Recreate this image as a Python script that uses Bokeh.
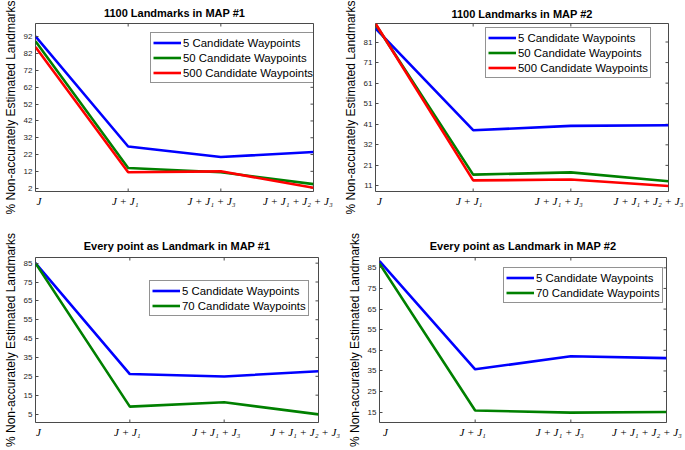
import math
from bokeh.plotting import figure
from bokeh.models import LinearAxis, FixedTicker, Legend, LegendItem, Range1d
from bokeh.layouts import column, row
from bokeh.embed import file_html
from bokeh.resources import INLINE

# ---------------- data ----------------
stages = [1, 2, 3, 4]
stage_labels = ["J", "J + J₁", "J + J₁ + J₃", "J + J₁ + J₂ + J₃"]

title_1 = "1100 Landmarks in MAP #1"
title_2 = "1100 Landmarks in MAP #2"
title_3 = "Every point as Landmark in MAP #1"
title_4 = "Every point as Landmark in MAP #2"

y_label = "% Non-accurately Estimated Landmarks"

series_names_a = ["5 Candidate Waypoints", "50 Candidate Waypoints", "500 Candidate Waypoints"]
series_names_b = ["5 Candidate Waypoints", "70 Candidate Waypoints"]

map1_1100_w5 = [92.4, 26.8, 20.5, 23.5]
map1_1100_w50 = [89.4, 14.0, 11.5, 4.4]
map1_1100_w500 = [86.0, 11.5, 12.0, 2.2]

map2_1100_w5 = [87.6, 38.1, 40.2, 40.5]
map2_1100_w50 = [89.6, 16.5, 17.6, 13.3]
map2_1100_w500 = [90.0, 13.7, 14.1, 11.0]

map1_all_w5 = [85.0, 26.2, 24.9, 27.7]
map1_all_w70 = [85.0, 8.9, 11.2, 4.8]

map2_all_w5 = [88.3, 35.8, 42.1, 41.2]
map2_all_w70 = [87.0, 15.8, 14.8, 15.1]

ticks_1 = [2, 12, 22, 32, 42, 52, 62, 72, 82, 92]
tick_labels_1 = ["2", "12", "22", "32", "42", "52", "62", "72", "82", "92"]
ticks_2 = [11, 21, 31, 41, 51, 61, 71, 81]
tick_labels_2 = ["11", "21", "32", "41", "51", "61", "71", "81"]
ticks_3 = [5, 15, 25, 35, 45, 55, 65, 75, 85]
tick_labels_3 = ["5", "15", "25", "35", "45", "55", "65", "75", "85"]
ticks_4 = [15, 25, 35, 45, 55, 65, 75, 85]
tick_labels_4 = ["15", "25", "35", "45", "55", "65", "75", "85"]

y_lims_1 = (0, 100)
y_lims_2 = (8.3, 90)
y_lims_3 = (0.5, 88)
y_lims_4 = (10, 90)

# ---------------- styling ----------------
COLORS = ["#0000ff", "#008000", "#ff0000"]
SANS = "Liberation Sans"
SERIF = "Liberation Serif"
EDGE = "#4a4a4a"


def make_panel(title, series, names, ticks, tick_labels, ylims, geom, title_gap,
               legend_pos, label_shift):
    w, h, bl, br, bt, bb = geom
    p = figure(width=w, height=h, output_backend="svg", toolbar_location=None,
               x_range=Range1d(1, 4), y_range=Range1d(*ylims),
               min_border_left=bl, min_border_right=br,
               min_border_top=bt, min_border_bottom=bb,
               x_axis_location=None, y_axis_location=None)
    p.grid.visible = False
    p.outline_line_color = EDGE
    p.outline_line_width = 1
    p.background_fill_color = "white"
    p.border_fill_color = "white"

    p.title.text = title
    p.title.align = "center"
    p.title.text_font = SANS
    p.title.text_font_size = "11px"
    p.title.text_font_style = "bold"
    p.title.text_color = "#000000"
    p.title.standoff = title_gap

    overrides = {t: l for t, l in zip(ticks, tick_labels)}

    yl = LinearAxis(ticker=FixedTicker(ticks=ticks), major_label_overrides=overrides,
                    axis_label=y_label)
    yl.axis_line_color = None
    yl.major_tick_in = 3
    yl.major_tick_out = 0
    yl.major_tick_line_color = EDGE
    yl.minor_tick_line_color = None
    yl.major_label_standoff = 3
    yl.major_label_text_font = SANS
    yl.major_label_text_font_size = "8px"
    yl.major_label_text_color = "#262626"
    yl.axis_label_text_font = SANS
    yl.axis_label_text_font_size = "12px"
    yl.axis_label_text_font_style = "normal"
    yl.axis_label_text_color = "#000000"
    yl.axis_label_standoff = 3
    p.add_layout(yl, "left")

    # x tick labels: an axis on a shifted copy of the stage scale
    a, b = label_shift
    fw = w - bl - br
    k = fw / 3 + b
    start = 1 - a / k
    p.extra_x_ranges = {"lab": Range1d(start, start + fw / k)}
    xa = LinearAxis(x_range_name="lab", ticker=FixedTicker(ticks=stages),
                    major_label_overrides={s: l for s, l in zip(stages, stage_labels)})
    xa.axis_line_color = None
    xa.major_tick_in = 0
    xa.major_tick_out = 0
    xa.minor_tick_line_color = None
    xa.major_label_standoff = 3
    xa.major_label_text_font = SERIF
    xa.major_label_text_font_style = "italic"
    xa.major_label_text_font_size = "11px"
    xa.major_label_text_color = "#000000"
    p.add_layout(xa, "below")

    # inner ticks on the right, bottom and top edges (half clipped by the frame)
    n = len(ticks)
    p.scatter([4] * n, ticks, marker="dash", size=6, line_color=EDGE, line_width=1)
    p.scatter(stages, [ylims[0]] * len(stages), marker="dash", angle=math.pi / 2,
              size=6, line_color=EDGE, line_width=1)
    p.scatter(stages, [ylims[1]] * len(stages), marker="dash", angle=math.pi / 2,
              size=6, line_color=EDGE, line_width=1)

    items = []
    for vals, name, c in zip(series, names, COLORS):
        r = p.line(stages, vals, line_color=c, line_width=2.6)
        items.append(LegendItem(label=name, renderers=[r]))

    lg = Legend(items=items, location=legend_pos)
    lg.label_text_font = SANS
    lg.label_text_font_size = "11.4px"
    lg.label_text_color = "#000000"
    lg.label_standoff = 2
    lg.label_height = 15
    lg.glyph_height = 15
    lg.glyph_width = 28
    lg.spacing = 0
    lg.padding = 2
    lg.margin = 0
    lg.border_line_color = "#262626"
    lg.border_line_width = 1
    lg.background_fill_color = "white"
    lg.background_fill_alpha = 1
    p.add_layout(lg, "center")
    return p


p1 = make_panel(title_1, [map1_1100_w5, map1_1100_w50, map1_1100_w500], series_names_a,
                ticks_1, tick_labels_1, y_lims_1, (340, 225, 29, 27, 22, 34), 9,
                (115, 108), (3.5, -6.5))
p2 = make_panel(title_2, [map2_1100_w5, map2_1100_w50, map2_1100_w500], series_names_a,
                ticks_2, tick_labels_2, y_lims_2, (345, 225, 35, 17, 20, 32), 8,
                (110, 113), (4, -8))
p3 = make_panel(title_3, [map1_all_w5, map1_all_w70], series_names_b,
                ticks_3, tick_labels_3, y_lims_3, (340, 225, 30, 22, 32, 28), 12,
                (114, 106), (3, -5.5))
p4 = make_panel(title_4, [map2_all_w5, map2_all_w70], series_names_b,
                ticks_4, tick_labels_4, y_lims_4, (345, 225, 39, 19, 32, 24), 12,
                (124, 119), (6, -8.5))

layout = column(row(p1, p2), row(p3, p4))

open("out.html", "w").write(file_html(layout, INLINE))
